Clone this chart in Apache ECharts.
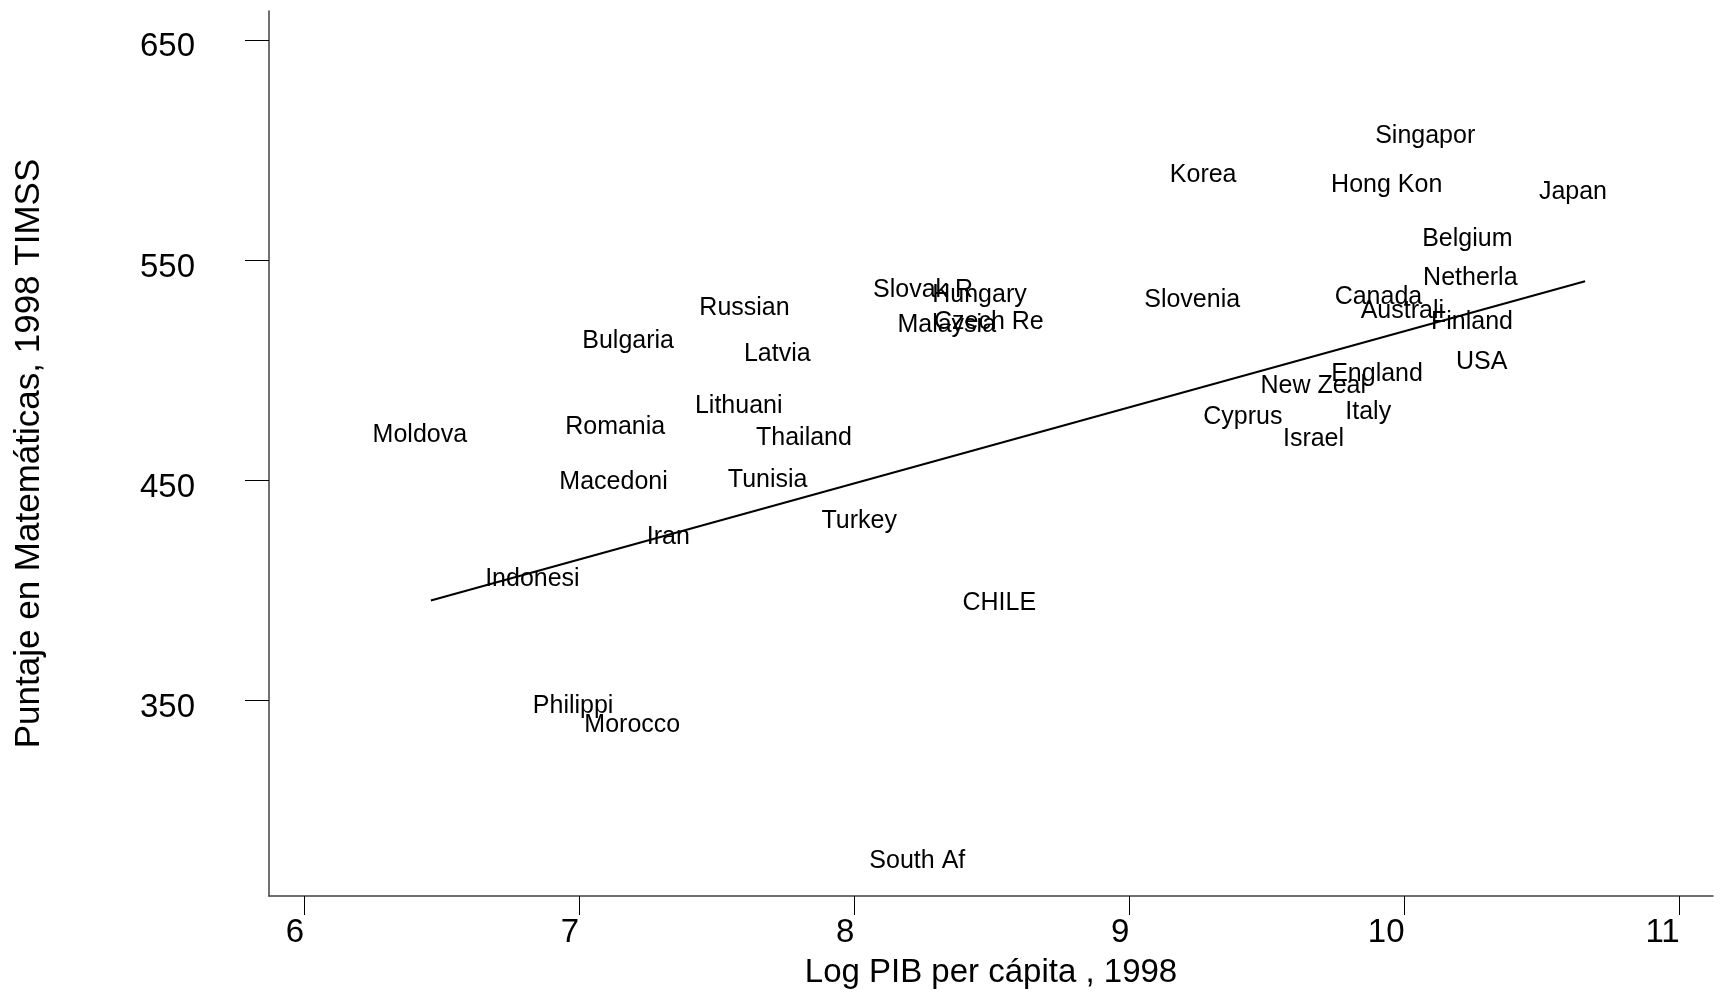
<!DOCTYPE html>
<html>
<head>
<meta charset="utf-8">
<script src="https://cdn.jsdelivr.net/npm/echarts@6/dist/echarts.min.js"></script>
<style>
html,body{margin:0;padding:0;background:#fff;}
#chart{width:1720px;height:994px;}
</style>
</head>
<body>
<div id="chart"></div>
<script>
const countries = ['Singapor','Korea','Hong Kon','Japan','Belgium','Netherla','Slovak R','Hungary','Slovenia','Canada','Russian','Australi','Malaysia','Czech Re','Finland','Bulgaria','Latvia','USA','England','New Zeal','Lithuani','Italy','Cyprus','Romania','Moldova','Thailand','Israel','Macedoni','Tunisia','Turkey','Iran','Indonesi','CHILE','Philippi','Morocco','South Af'];
const logGdp = [10.075,9.268,9.935,10.612,10.228,10.239,8.250,8.455,9.228,9.905,7.601,9.992,8.336,8.489,10.245,7.178,7.720,10.280,9.900,9.668,7.580,9.868,9.412,7.131,6.421,7.817,9.669,7.125,7.685,8.018,7.324,6.830,8.527,6.978,7.193,8.229];
const mathScore = [607.9,590.3,585.6,582.5,561.1,543.5,537.8,535.5,533.3,534.7,530.0,528.3,522.3,523.6,523.6,514.7,508.9,505.4,500.0,494.6,485.5,482.7,480.1,475.6,472.2,470.7,470.2,450.9,451.9,433.1,425.7,406.9,396.0,348.9,340.6,278.6];
const fitX = [6.461, 10.656];
const fitY = [395.5, 540.4];
const xTicks = [6,7,8,9,10,11];
const yTicks = [350,450,550,650];

const FONT = "'Liberation Sans', Arial, sans-serif";
const chart = echarts.init(document.getElementById('chart'), null, {renderer:'canvas'});
const pts = countries.map((c,i)=>({name:c, value:[logGdp[i], mathScore[i]]}));
const fit = fitX.map((x,i)=>[x, fitY[i]]);

chart.setOption({
  animation:false,
  backgroundColor:'#fff',
  grid:{left:269, right:7, top:11, bottom:92},
  xAxis:{
    type:'value', min:5.8727, max:11.121,
    name:'Log PIB per cápita , 1998', nameLocation:'middle', nameGap:60,
    nameTextStyle:{fontSize:33, color:'#000', fontFamily:FONT},
    axisLine:{show:true, onZero:false, lineStyle:{color:'#404040', width:1.5}},
    axisTick:{show:true, length:19, lineStyle:{color:'#000', width:1}, customValues:xTicks},
    axisLabel:{fontSize:33, color:'#000', fontFamily:FONT, margin:20, align:'right', customValues:xTicks},
    splitLine:{show:false}
  },
  yAxis:{
    type:'value', min:261.3, max:663.1,
    name:'Puntaje en Matemáticas, 1998 TIMSS', nameLocation:'middle', nameGap:222,
    nameTextStyle:{fontSize:35, color:'#000', fontFamily:FONT},
    axisLine:{show:true, onZero:false, lineStyle:{color:'#404040', width:1.5}},
    axisTick:{show:true, length:24, lineStyle:{color:'#000', width:1}, customValues:yTicks},
    axisLabel:{fontSize:33, color:'#000', fontFamily:FONT, margin:74, verticalAlign:'top', lineHeight:15, customValues:yTicks},
    splitLine:{show:false}
  },
  series:[
    {
      type:'line', data:fit, symbol:'none', z:2,
      lineStyle:{color:'#000', width:2}
    },
    {
      type:'scatter', data:pts, symbolSize:1, z:3,
      itemStyle:{color:'rgba(0,0,0,0)', opacity:1},
      label:{show:true, position:'inside', offset:[0,3.5], formatter:p=>p.name, color:'#000', opacity:1, textBorderWidth:0, fontSize:25, fontFamily:FONT}
    }
  ]
});
</script>
</body>
</html>
